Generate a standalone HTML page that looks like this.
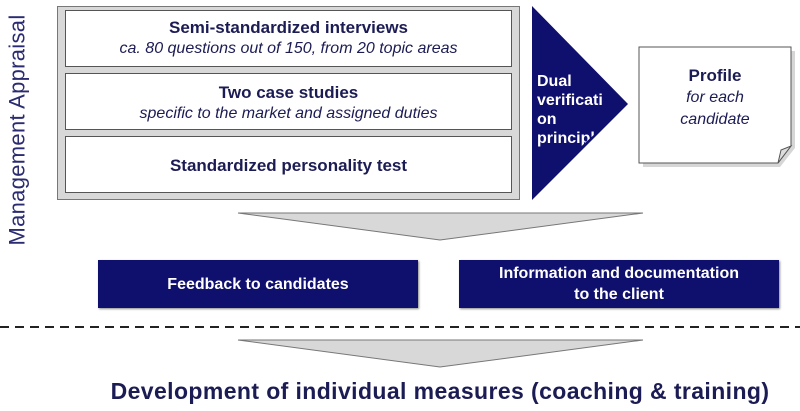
<!DOCTYPE html>
<html><head><style>
body{margin:0;width:800px;height:411px;background:#fff;position:relative;overflow:hidden;font-family:"Liberation Sans",Arial,sans-serif;}
.a{position:absolute}
.ib{position:absolute;left:65px;width:447px;background:#fff;border:1px solid #555;box-sizing:border-box;text-align:center;color:#1c1c55}
.t{font-weight:bold;font-size:17px}
.s{font-style:italic;font-size:16px}
.nb{position:absolute;background:#0f0f6e;color:#fff;font-weight:bold;font-size:16px;text-align:center;display:flex;align-items:center;justify-content:center;line-height:21px;box-shadow:1px 1px 2px #888}
</style></head><body>
<div class="a" style="left:-115px;top:117px;width:265px;height:26px;transform:rotate(-90deg);color:#2b2b72;font-size:22px;text-align:center;line-height:26px;white-space:nowrap;letter-spacing:0.3px">Management Appraisal</div>
<div class="a" style="left:57px;top:6px;width:463px;height:194px;background:#d8d8d8;border:1px solid #777;box-sizing:border-box"></div>
<div class="ib" style="top:10px;height:57px;padding-top:7px"><div class="t">Semi-standardized interviews</div><div class="s" style="margin-top:2px">ca. 80 questions out of 150, from 20 topic areas</div></div>
<div class="ib" style="top:73px;height:57px;padding-top:9px"><div class="t">Two case studies</div><div class="s" style="margin-top:2px">specific to the market and assigned duties</div></div>
<div class="ib" style="top:136px;height:57px;padding-top:19px"><div class="t">Standardized personality test</div></div>
<svg class="a" style="left:0;top:0" width="800" height="411">
<polygon points="532,6 628,104 532,200" fill="#0f0f6e"/>
<polygon points="238,213 643,213 440,240" fill="#d8d8d8" stroke="#777" stroke-width="1"/>
<polygon points="238,340 643,340 440,367" fill="#d8d8d8" stroke="#777" stroke-width="1"/>
<line x1="0" y1="327" x2="800" y2="327" stroke="#222" stroke-width="2" stroke-dasharray="9,6"/>
<polygon points="643,51 795,51 795,148 780,167 643,167" fill="#bbb" opacity="0.6"/>
<polygon points="639,47 791,47 791,146 778,163 639,163" fill="#fff" stroke="#555"/>
<polygon points="791,146 778,163 781,150" fill="#ddd" stroke="#555"/>
</svg>
<div class="a" style="left:537px;top:72px;color:#fff;font-weight:bold;font-size:16px;line-height:19px;width:80px;height:80px;overflow:hidden;clip-path:polygon(0 0,49px 0,91px 32px,38px 80px,0 80px)">Dual<br>verificati<br>on<br>principle</div>
<div class="a" style="left:639px;top:65px;width:152px;text-align:center;color:#1c1c55;line-height:22px"><div style="font-weight:bold;font-size:17px">Profile</div><div style="font-style:italic;font-size:16px">for each<br>candidate</div></div>
<div class="nb" style="left:98px;top:260px;width:320px;height:48px">Feedback to candidates</div>
<div class="nb" style="left:459px;top:260px;width:320px;height:48px">Information and documentation<br>to the client</div>
<div class="a" style="left:0;top:378px;width:880px;text-align:center;color:#1c1c55;font-weight:bold;font-size:23px;letter-spacing:0.4px">Development of individual measures (coaching &amp; training)</div>
</body></html>
